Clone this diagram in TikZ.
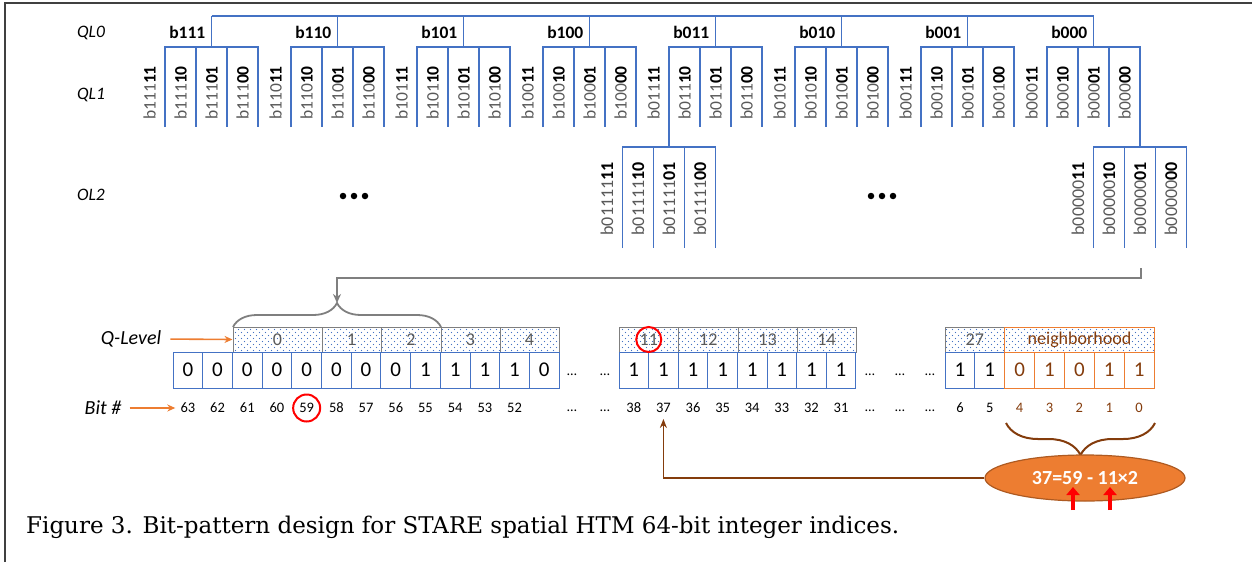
\documentclass[tikz,border=0pt]{standalone}
\usepackage{fontspec}
\setmainfont{Carlito}
\newfontfamily\capfont{DejaVu Serif}
\usetikzlibrary{arrows.meta,decorations.pathreplacing,shapes.geometric,patterns.meta}
\definecolor{qblue}{HTML}{4472C4}
\definecolor{qorange}{HTML}{ED7D31}
\definecolor{qbrown}{HTML}{843C0C}
\definecolor{qgray}{HTML}{7F7F7F}
\definecolor{qtxt}{HTML}{595959}
\definecolor{qframe}{HTML}{404040}
\definecolor{qellb}{HTML}{AE5A21}
\tikzdeclarepattern{
  name=qdots,
  type=uncolored,
  bottom left={(-1pt,-1pt)},
  top right={(7pt,7pt)},
  tile size={(6pt,6pt)},
  code={\pgfpathcircle{\pgfpoint{1.5pt}{1.5pt}}{0.65pt}\pgfpathcircle{\pgfpoint{4.5pt}{4.5pt}}{0.65pt}\pgfusepath{fill}}
}
\newcommand\bitlab[2]{#1\textcolor{black}{\bfseries #2}}
\begin{document}
\begin{tikzpicture}[x=1pt,y=-1pt,
  bl/.style={draw=qblue,line width=1.8pt},
  ql0/.style={font=\fontsize{17.5}{20}\selectfont\bfseries,anchor=east,inner sep=0pt},
  ql1/.style={font=\fontsize{17.5}{20}\selectfont,text=qtxt,rotate=90,anchor=east,inner sep=0pt},
  lvl/.style={font=\fontsize{17.5}{20}\selectfont\itshape,inner sep=0pt},
  bigl/.style={font=\fontsize{20}{22}\selectfont\itshape,inner sep=0pt},
  bitc/.style={draw=qblue,line width=1pt,minimum height=36pt,inner sep=0pt,font=\fontsize{21}{24}\selectfont},
  qcell/.style={draw=qgray,line width=1pt,pattern={qdots},pattern color=qblue,minimum height=25pt,inner sep=0pt,text=qtxt,font=\fontsize{18}{20}\selectfont},
  bitn/.style={font=\fontsize{14.5}{16}\selectfont,inner sep=0pt},
  elli/.style={font=\fontsize{14}{16}\selectfont,inner sep=0pt,anchor=base},
  bdot/.style={fill=black,circle,inner sep=0pt,minimum size=6.5pt},
  oarr/.style={draw=qorange,line width=1.6pt,-{Stealth[length=8pt,width=7pt]}},
  rarr/.style={draw=red,line width=4.5pt,-{Triangle[length=8pt,width=13pt]}},
  rcirc/.style={draw=red,circle,line width=2pt,inner sep=0pt}
]
\useasboundingbox (0,0) rectangle (1252,562);
% frame
\draw[qframe,line width=2pt] (5,562) -- (5,3) -- (1252,3);

% level labels
\node[lvl] (lq0) at (91,33) {QL0};
\node[lvl] (lq1) at (91,95) {QL1};
\node[lvl] (lo2) at (91,195) {OL2};

% QL0 top line
\coordinate (top0) at (211.5,16);
\coordinate (top7) at (1093.5,16);
\draw[bl] (top0) -- (top7);

\foreach \k/\pre in {0/111,1/110,2/101,3/100,4/011,5/010,6/001,7/000} {
  \pgfmathsetmacro\gx{165+126*\k}
  \draw[bl] ({\gx+46.5},16) -- ({\gx+46.5},47);
  \node[ql0] (t\k) at ({\gx+40.5},32) {b\pre};
  \draw[bl] (\gx,127) -- (\gx,47) -- ({\gx+93},47) -- ({\gx+93},127);
  \draw[bl] ({\gx+31},47) -- ({\gx+31},127);
  \draw[bl] ({\gx+62},47) -- ({\gx+62},127);
  \foreach \j/\s in {0/11,1/10,2/01,3/00} {
    \node[ql1] (g\k-\j) at ({\gx-15.5+31*\j},66) {\bitlab{b\pre}{\s}};
  }
}
% extensions to OL2
\draw[bl] (669,127) -- (669,147);
\draw[bl] (1140,127) -- (1140,147);

\foreach \gx/\pre/\nm in {622.5/b01111/A,1093.5/b00000/B} {
  \draw[bl] (\gx,248) -- (\gx,147) -- ({\gx+93},147) -- ({\gx+93},248);
  \draw[bl] ({\gx+31},147) -- ({\gx+31},248);
  \draw[bl] ({\gx+62},147) -- ({\gx+62},248);
  \foreach \j/\s in {0/11,1/10,2/01,3/00} {
    \node[ql1,font=\fontsize{18}{20}\selectfont] (o\nm-\j) at ({\gx-15.5+31*\j},162) {\bitlab{\pre}{\s}};
  }
}

% ellipsis dots
\node[bdot] (da1) at (343,196) {};
\node[bdot] (da2) at (354,196) {};
\node[bdot] (da3) at (365,196) {};
\node[bdot] (db1) at (871,196) {};
\node[bdot] (db2) at (882,196) {};
\node[bdot] (db3) at (893,196) {};

% Q-level cells
\foreach \a/\bb/\qq in {233/322/0,322/381/1,381/441/2,441/500/3,500/559/4,619/678.5/11,678.5/738/12,738/797/13,797/856/14,945/1004.5/27} {
  \pgfmathsetmacro\qw{\bb-\a}
  \node[qcell,minimum width=\qw pt] (Q\qq) at ({(\a+\bb)/2},339.5) {\qq};
}
\node[qcell,draw=qorange,text=qbrown,minimum width=150pt] (Qn) at (1079.5,339.5) {neighborhood};

% bit cells
\foreach \bv [count=\i from 0] in {0,0,0,0,0,0,0,0,1,1,1,1,0}
  \node[bitc,minimum width=29.7pt] (L\i) at ({187.85+29.7*\i},370) {\bv};
\foreach \i in {0,...,11} {
  \pgfmathtruncatemacro\nn{63-\i}
  \node[bitn] (n\nn) at ({187.85+29.7*\i},408) {\nn};
}
\foreach \i in {0,...,7} {
  \node[bitc,minimum width=29.6pt] (M\i) at ({633.8+29.6*\i},370) {1};
  \pgfmathtruncatemacro\nn{38-\i}
  \node[bitn] (n\nn) at ({633.8+29.6*\i},408) {\nn};
}
\foreach \bv [count=\i from 0] in {1,1}
  \node[bitc,minimum width=29.86pt] (R\i) at ({959.93+29.86*\i},370) {\bv};
\foreach \bv [count=\i from 2] in {0,1,0,1,1}
  \node[bitc,draw=qorange,text=qbrown,minimum width=29.86pt] (R\i) at ({959.93+29.86*\i},370) {\bv};
\foreach \i in {0,1} {
  \pgfmathtruncatemacro\nn{6-\i}
  \node[bitn] (n\nn) at ({959.93+29.86*\i},408) {\nn};
}
\foreach \i in {2,...,6} {
  \pgfmathtruncatemacro\nn{6-\i}
  \node[bitn,text=qbrown] (n\nn) at ({959.93+29.86*\i},408) {\nn};
}

% ellipses
\foreach \xx/\nm in {572/a,605/b,870/c,900/d,930/e} {
  \node[elli] (eb\nm) at (\xx,375) {…};
  \node[elli] (en\nm) at (\xx,411) {…};
}

% left labels and arrows
\node[bigl] (qlev) at (131,339) {Q-Level};
\node[bigl] (bitno) at (103,408) {Bit \#};
\draw[oarr,shorten <=9pt] (qlev.east) -- (Q0.west);
\draw[oarr,shorten <=8pt,shorten >=5pt] (bitno.east) -- (n63.west);

% red circles
\node[rcirc,minimum size=27pt] (c59) at (n59) {};
\node[rcirc,minimum size=25pt] (c11) at (Q11) {};

% gray brace + connector
\draw[qgray,line width=1.8pt,decorate,decoration={brace,amplitude=24pt}] (233,327) -- (441,327);
\coordinate (gs) at (1141,268);
\coordinate (gt) at (337,303);
\draw[qgray,line width=1.8pt,-{Stealth[length=9pt,width=8pt]}] (gs) -- ++(0,10) -| (gt);

% brown brace
\draw[qbrown,line width=2pt,decorate,decoration={brace,amplitude=32pt}] (1155,423) -- (1006,423);

% equation ellipse
\node[ellipse,fill=qorange,draw=qellb,line width=1.2pt,minimum width=200pt,minimum height=46pt,inner sep=0pt,text=white,font=\fontsize{20}{22}\selectfont\bfseries] (eq) at (1085,478) {37=59 - 11×2};
\draw[qbrown,line width=1.6pt,-{Stealth[length=9pt,width=7pt]},shorten >=6pt] (eq.west) -| (n37.south);

% red arrows
\coordinate (ra1s) at (1073,510);
\coordinate (ra1e) at (1073,487);
\coordinate (ra2s) at (1110,510);
\coordinate (ra2e) at (1110,487);
\draw[rarr] (ra1s) -- (ra1e);
\draw[rarr] (ra2s) -- (ra2e);

% caption
\node[anchor=base west,inner sep=0pt,font=\capfont\fontsize{23}{28}\selectfont] (cap) at (26,533) {Figure 3. Bit-pattern design for STARE spatial HTM 64-bit integer indices.};
\end{tikzpicture}
\end{document}
